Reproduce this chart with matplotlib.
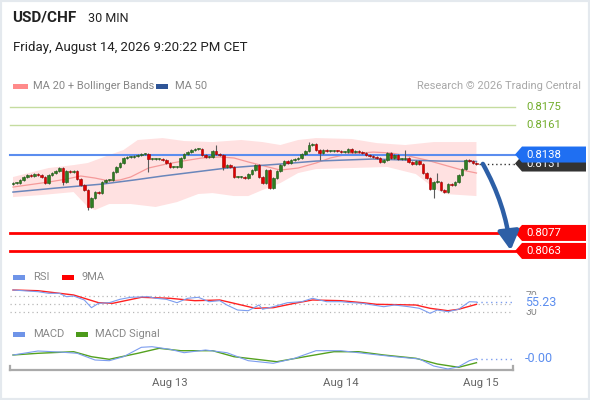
import numpy as np
import pandas as pd
import matplotlib
matplotlib.use("Agg")
import matplotlib.pyplot as plt
from matplotlib.patches import Rectangle, Polygon, FancyArrowPatch

plt.rcParams["font.family"] = ["Roboto", "DejaVu Sans"]

# ---- data ----
# 30-min candles, prices as pips above 0.8100
base = 0.8100
pip = 1e-4
first_open = 15.4
close_pips = [
    15.8, 15.8, 18.2, 20.5, 22.0, 21.5, 22.8, 22.0, 20.7, 15.8,
    22.0, 23.8, 25.2, 27.5, 16.8, 25.2, 24.6, 25.2, 18.9, 14.3,
    10.4, -2.6, 4.2, 8.8, 8.0, 16.6, 18.2, 18.2, 24.6, 28.5,
    31.4, 35.5, 36.1, 36.1, 36.8, 37.6, 38.4, 38.4, 34.5, 34.5,
    34.5, 34.5, 33.7, 31.4, 28.3, 28.3, 28.3, 35.5, 38.4, 39.9,
    41.5, 42.3, 42.3, 37.6, 36.3, 36.3, 40.7, 38.4, 37.6, 28.5,
    29.8, 28.5, 20.7, 20.7, 20.7, 19.7, 22.8, 25.9, 29.8, 20.7,
    15.8, 25.9, 12.2, 19.7, 25.2, 29.8, 33.1, 31.4, 33.7, 34.5,
    35.3, 38.4, 40.7, 45.4, 46.2, 41.5, 39.2, 41.5, 40.9, 40.9,
    40.9, 40.7, 39.9, 39.9, 42.3, 40.2, 40.7, 40.2, 39.2, 37.6,
    36.8, 36.3, 35.5, 32.4, 33.7, 39.2, 35.5, 37.6, 34.5, 34.5,
    35.3, 32.2, 30.6, 33.1, 30.6, 23.6, 19.7, 11.2, 16.8, 16.8,
    10.4, 9.1, 14.8, 14.3, 16.4, 22.0, 26.7, 33.7, 33.1, 31.5,
    31.0,
]
long_high = {57: 45.4, 83: 47.7, 110: 41.5, 119: 23.6}
long_low = {14: 14.3, 21: -5.2, 38: 24.4, 59: 25.9, 72: 11.4, 86: 33.7, 118: 4.4}
wick = 0.8

bb_up_idx = [0, 10, 17, 21, 27, 31, 35, 42, 48, 56, 64, 70, 75, 80, 85, 95, 102, 110, 118, 130]
bb_up = [20.5, 27.5, 29.8, 31.4, 37.6, 41.5, 49.3, 50.8, 48.5, 47.7, 49.3, 47.7, 45.4, 49.3,
         50.8, 50.1, 46.9, 45.4, 47.7, 47.7]
bb_lo_idx = [0, 8, 17, 21, 23, 27, 33, 40, 46, 52, 56, 62, 66, 70, 75, 80, 85, 95, 105, 113,
             118, 121, 130]
bb_lo = [4.9, 6.5, 8.8, -2.8, -5.2, -0.5, -0.5, -2.8, 1.0, 7.3, 8.0, 5.7, 5.7, 10.4, 15.8,
         23.6, 26.7, 27.5, 28.3, 22.8, 12.1, 7.3, 5.7]
ma20_idx = [0, 10, 15, 19, 23, 27, 30, 33, 38, 43, 48, 53, 58, 62, 66, 75, 80, 85, 89, 94,
            101, 106, 111, 116, 121, 126, 130]
ma20 = [12.7, 16.6, 18.9, 21.3, 19.7, 17.4, 18.2, 20.5, 27.5, 30.6, 33.1, 35.3, 36.1, 35.3,
        32.2, 25.9, 27.5, 31.4, 35.3, 38.4, 39.9, 39.2, 36.8, 33.7, 29.8, 25.9, 23.6]
ma50_idx = [0, 12, 25, 34, 42, 51, 60, 67, 75, 85, 101, 110, 120, 130]
ma50 = [8.8, 11.9, 15.0, 18.2, 21.3, 24.4, 27.5, 29.0, 30.6, 32.9, 34.5, 33.7, 32.9, 32.6]

resist_levels = [0.8175, 0.8161]
pivot_level = 0.8138
last_price = 0.8131
support_levels = [0.8077, 0.8063]
arrow_target = 0.80635

rsi_idx = [0, 7, 10, 13, 15, 17, 20, 22, 24, 27, 30, 33, 38, 40, 43, 46, 49, 52, 55, 58,
           60, 63, 66, 69, 70, 73, 77, 81, 84, 88, 92, 95, 98, 101, 104, 107, 111, 114, 117,
           119, 122, 125, 128, 130]
rsi = [84.7, 80.6, 76.6, 76.6, 68.3, 70.0, 60.2, 41.3, 52.1, 53.6, 61.9, 66.8, 68.3, 64.4,
       61.9, 53.6, 64.4, 66.8, 56.0, 58.5, 47.9, 35.6, 33.9, 47.9, 37.4, 43.7, 53.6, 56.0,
       64.4, 56.0, 56.0, 53.6, 52.1, 47.9, 43.7, 47.9, 43.7, 39.8, 27.5, 35.6, 31.5, 37.4,
       56.0, 55.23]
rsi_ma_idx = [0, 7, 17, 24, 28, 36, 44, 51, 58, 62, 68, 73, 79, 84, 92, 98, 102, 113, 117,
              122, 125, 130]
rsi_ma = [84.7, 83.0, 72.5, 53.6, 52.1, 66.8, 64.4, 58.5, 60.2, 52.1, 39.8, 41.3, 52.1, 60.2,
          58.5, 53.6, 49.6, 47.9, 39.8, 33.9, 37.4, 49.6]

macd_idx = [0, 7, 13, 18, 23, 27, 31, 36, 39, 44, 48, 54, 60, 66, 73, 79, 85, 92, 100, 107,
            114, 118, 122, 125, 128, 130]
macd_pips = [0.20, 0.60, 0.50, 0.37, -0.30, -0.37, 0.03, 0.97, 1.03, 0.77, 0.43, 0.70, 0.43,
             -0.37, -0.63, -0.13, 0.63, 0.63, 0.30, 0.03, -0.20, -0.90, -1.20, -0.97, -0.37,
             -0.17]
signal_idx = [0, 7, 17, 22, 27, 35, 41, 47, 56, 62, 74, 83, 90, 97, 104, 113, 119, 125, 130]
signal_pips = [0.20, 0.37, 0.53, 0.03, -0.23, 0.37, 0.87, 0.63, 0.63, 0.03, -0.47, 0.10, 0.53,
               0.53, 0.20, -0.13, -0.70, -1.03, -0.57]

start_time = "2026-08-12 02:00"
day_labels = ["2026-08-13", "2026-08-14", "2026-08-15"]

# ---- derived ----
c = base + np.array(close_pips) * pip
o = np.r_[base + first_open * pip, c[:-1]]
hi = np.maximum(o, c) + wick * pip
lo = np.minimum(o, c) - wick * pip
for k, v in long_high.items():
    hi[k] = max(hi[k], base + v * pip)
for k, v in long_low.items():
    lo[k] = min(lo[k], base + v * pip)
n = len(c)
x = np.arange(n)
times = pd.date_range(start_time, periods=n, freq="30min")

W, H = 590, 400
XMAX = 140.25
fig = plt.figure(figsize=(W / 100, H / 100), dpi=100)
fig.patch.set_facecolor("white")


def px_axes(left, top, right, bottom):
    a = fig.add_axes([left / W, 1 - bottom / H, (right - left) / W, (bottom - top) / H])
    a.set_xlim(-0.84, XMAX)
    a.axis("off")
    return a


def fx(px):
    return px / W


def fy(py):
    return 1 - py / H


def frac(px):  # pixel x -> axes fraction for the 10..513 plot area
    return (px - 10) / 503.0


# ---- price panel ----
ax = px_axes(10, 95, 513, 262)
ax.set_ylim(0.80544, 0.81843)
ppx = (0.81843 - 0.80544) / 167.0
tr = ax.get_yaxis_transform()

band_x = np.r_[bb_up_idx, bb_lo_idx[::-1]]
band_y = base + np.r_[bb_up, bb_lo[::-1]] * pip
ax.fill(band_x, band_y, color="#ffe1e1", lw=0, zorder=1)
ax.plot(ma20_idx, base + np.array(ma20) * pip, color="#f59a9a", lw=0.9, zorder=2)
ax.plot(ma50_idx, base + np.array(ma50) * pip, color="#6a86bb", lw=1.1, zorder=2)

for lv in resist_levels:
    ax.plot([0, frac(515)], [lv, lv], transform=tr, color="#c5dc9f", lw=1, clip_on=False, zorder=2)
    ax.text(frac(526), lv, f"{lv:.4f}", transform=tr, color="#72ad2b", fontsize=8.2,
            va="center", ha="left")
ax.plot([0, frac(515)], [pivot_level, pivot_level], transform=tr, color="#5b8def", lw=1.5,
        clip_on=False, zorder=2.5)
for lv in support_levels:
    ax.plot([0, frac(515)], [lv, lv], transform=tr, color="#ff0000", lw=2, clip_on=False, zorder=2)

up = c >= o
body_col = np.where(up, "#2f7d22", "#e00000")
edge_col = np.where(up, "#1f5a16", "#a00000")
ax.vlines(x, lo, hi, color="#5a5a5a", lw=0.8, zorder=3)
ax.bar(x, np.maximum(np.abs(c - o), 0.5 * pip), bottom=np.minimum(o, c), width=0.72,
       color=body_col, edgecolor=edge_col, lw=0.4, zorder=4)

ax.plot([x[-1] + 0.6, XMAX], [last_price, last_price], color="#333333", lw=1,
        ls=(0, (1, 2)), zorder=3)
ax.plot([1.0, frac(515)], [last_price, last_price], transform=tr, color="#333333", lw=1,
        ls=(0, (1, 2)), clip_on=False)


def tag(level, text, fc, z):
    dy = 8 * ppx
    pts = [(frac(515), level), (frac(522), level + dy), (frac(586), level + dy),
           (frac(586), level - dy), (frac(522), level - dy)]
    ax.add_patch(Polygon(pts, closed=True, transform=tr, fc=fc, ec="none", clip_on=False, zorder=z))
    ax.text(frac(526), level, text, transform=tr, color="white", fontsize=8.2, va="center",
            ha="left", zorder=z + 0.1, clip_on=False)


tag(last_price, f"{last_price:.4f}", "#333333", 10)
tag(pivot_level, f"{pivot_level:.4f}", "#1f6ff2", 11)
for lv in support_levels:
    tag(lv, f"{lv:.4f}", "#ff0000", 10)

arrow = FancyArrowPatch((131.8, last_price - 0.3 * pip), (139.6, arrow_target),
                        connectionstyle="arc3,rad=-0.1", shrinkA=0, shrinkB=0,
                        arrowstyle="-|>,head_length=0.8,head_width=0.45", mutation_scale=14,
                        color="#2d5fa6", lw=3.2, zorder=12, clip_on=False)
ax.add_patch(arrow)

# ---- RSI panel ----
ar = px_axes(10, 285, 513, 318)
ar.set_ylim(16.0, 97.0)
trr = ar.get_yaxis_transform()
for g in (70, 50, 30):
    ar.axhline(g, color="#b8b8b8", lw=0.9, ls=(0, (1, 2.5)), zorder=1)
ar.plot(rsi_ma_idx, rsi_ma, color="#ff2020", lw=1.0, zorder=2)
ar.plot(rsi_idx, rsi, color="#7c9def", lw=0.8, zorder=3)
ar.plot([rsi_idx[-1], XMAX], [rsi[-1], rsi[-1]], color="#7c9def", lw=1, ls=(0, (1, 2.5)))
ar.text(frac(526), 70, "70", transform=trr, color="#888888", fontsize=7.5, va="center")
ar.text(frac(526), 30, "30", transform=trr, color="#888888", fontsize=7.5, va="center")
ar.text(frac(525), rsi[-1], f"{rsi[-1]:.2f}", transform=trr, color="#5b8def", fontsize=9,
        va="center", bbox=dict(fc="white", ec="none", pad=0.6))

# ---- MACD panel ----
am = px_axes(10, 342, 513, 370)
am.set_ylim(-1.3 * pip, 1.5 * pip)
trm = am.get_yaxis_transform()
am.plot(signal_idx, np.array(signal_pips) * pip, color="#54a11f", lw=1.0, zorder=2)
am.plot(macd_idx, np.array(macd_pips) * pip, color="#7c9def", lw=0.8, zorder=3)
last_macd = macd_pips[-1] * pip
am.plot([macd_idx[-1], XMAX], [last_macd, last_macd], color="#7c9def", lw=1, ls=(0, (1, 2.5)))
am.text(frac(525), last_macd, f"{last_macd:.2f}", transform=trm, color="#5b8def", fontsize=9,
        va="center")

# x axis line
am.plot([0, 1], [0, 0], transform=am.transAxes, color="#aaaaaa", lw=1.6, clip_on=False)
for e in (0, 1):
    am.plot([e, e], [0, 0.14], transform=am.transAxes, color="#aaaaaa", lw=1.6, clip_on=False)
step = pd.Timedelta("30min")
for d in day_labels:
    pos = (pd.Timestamp(d) - times[0]) / step
    pos = min(pos, XMAX - 9)
    am.text(pos, -0.45, pd.Timestamp(d).strftime("%b %-d"), transform=am.get_xaxis_transform(),
            ha="center", va="center", color="#666666", fontsize=8.2)

# ---- header and legends ----
fig.text(fx(12), fy(18), "USD/CHF", fontsize=11, fontweight="bold", color="#222222", va="center")
fig.text(fx(88), fy(18), "30 MIN", fontsize=9, color="#222222", va="center")
fig.text(fx(13), fy(48), "Friday, August 14, 2026 9:20:22 PM CET", fontsize=9.5,
         color="#222222", va="center")
fig.text(fx(581), fy(86), "Research \u00a9 2026 Trading Central", fontsize=8, color="#a8a8a8",
         va="center", ha="right")


def legend_item(x0, y, width, col, label, tx):
    fig.patches.append(Rectangle((fx(x0), fy(y + 2.5)), width / W, 5 / H, transform=fig.transFigure,
                                 fc=col, ec="none"))
    fig.text(fx(tx), fy(y), label, fontsize=8, color="#888888", va="center")


legend_item(13, 86, 15, "#ff8a8a", "MA 20 + Bollinger Bands", 33)
legend_item(156, 86, 12, "#2f5597", "MA 50", 175)
legend_item(13, 277, 12, "#6f94e8", "RSI", 33)
legend_item(62, 277, 12, "#ff0000", "9MA", 82)
legend_item(13, 334, 12, "#6f94e8", "MACD", 33)
legend_item(76, 334, 12, "#4c9a1a", "MACD Signal", 95)

fig.patches.append(Rectangle((0, 0), 1, 1, transform=fig.transFigure, fill=False,
                             ec="#e4e9ee", lw=3))

fig.savefig("out.png", dpi=100)
